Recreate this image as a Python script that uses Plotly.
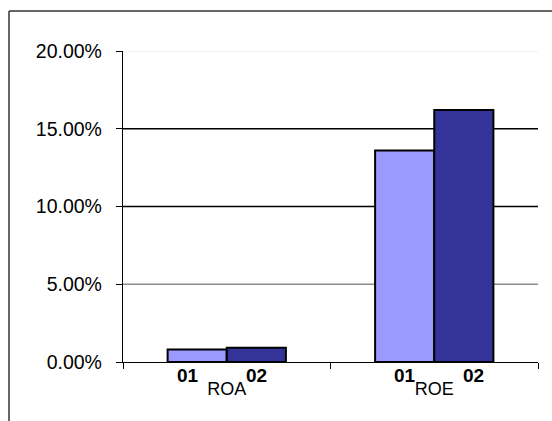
import plotly.graph_objects as go

# Ratios by year (percent)
categories = ["ROA", "ROE"]
years = ["01", "02"]
values_01 = [0.80, 13.6]
values_02 = [0.92, 16.2]
y_ticks = [0, 5, 10, 15, 20]

W, H = 552, 421
L, R, T, B = 123, 14, 51, 59
BARGAP = 0.43

bar_colors = ["#9999FF", "#333399"]
series = [values_01, values_02]

fig = go.Figure()
for name, vals, col in zip(years, series, bar_colors):
    fig.add_trace(go.Bar(
        x=categories, y=vals, name=name,
        marker=dict(color=col, line=dict(color="#000000", width=2)),
    ))

# Gridlines: drawn per tick with individual shades
grid_colors = [None, "#8c8c8c", "#000000", "#000000", "#eeeeee"]
shapes = []
for v, c in zip(y_ticks, grid_colors):
    if c is None:
        continue
    shapes.append(dict(type="line", xref="paper", yref="y", x0=0, x1=1, y0=v, y1=v,
                       line=dict(color=c, width=1.3), layer="below"))

# Outer frame: only the top and left edges fall inside the page
pw, ph = W - L - R, H - T - B
fx0 = (9 - L) / pw
fy1 = 1 + (T - 11) / ph
frame = dict(color="#333333", width=1.5)
shapes.append(dict(type="line", xref="paper", yref="paper",
                   x0=fx0, x1=1 + (R + 5) / pw, y0=fy1, y1=fy1, line=frame))
shapes.append(dict(type="line", xref="paper", yref="paper",
                   x0=fx0, x1=fx0, y0=fy1, y1=-(B + 5) / ph, line=frame))

# Year labels under each bar
w = (1 - BARGAP) / 2
label_shift = [[-9, 0], [0, 10]]
annotations = []
for i, cat in enumerate(categories):
    for j, yr in enumerate(years):
        xc = i - w / 2 + j * w
        annotations.append(dict(
            x=xc, y=0, xref="x", yref="y", text=f"<b>{yr}</b>", showarrow=False,
            yanchor="top", yshift=-1, xshift=label_shift[i][j],
            font=dict(family="Liberation Sans, Arial", size=19, color="#000000"),
        ))

fig.update_layout(
    width=W, height=H,
    margin=dict(l=L, r=R, t=T, b=B),
    paper_bgcolor="white", plot_bgcolor="white",
    barmode="group", bargap=BARGAP, bargroupgap=0,
    showlegend=False,
    shapes=shapes,
    annotations=annotations,
    font=dict(family="Liberation Sans, Arial", color="#000000"),
)
fig.update_yaxes(
    range=[0, 20], tickvals=y_ticks,
    ticktext=[f"{v:.2f}%" for v in y_ticks],
    showgrid=False, zeroline=False,
    showline=True, linecolor="#000000", linewidth=1.3,
    ticks="outside", ticklen=6, tickcolor="#000000", tickwidth=1.3,
    ticklabelstandoff=10,
    tickfont=dict(size=19.5),
)
fig.update_xaxes(
    showgrid=False, zeroline=False,
    showline=True, linecolor="#000000", linewidth=1.3,
    ticks="outside", tickson="boundaries", ticklen=6, tickcolor="#000000", tickwidth=1.3,
    ticklabelstandoff=10,
    tickfont=dict(size=18),
)

fig.write_html("out.html")
